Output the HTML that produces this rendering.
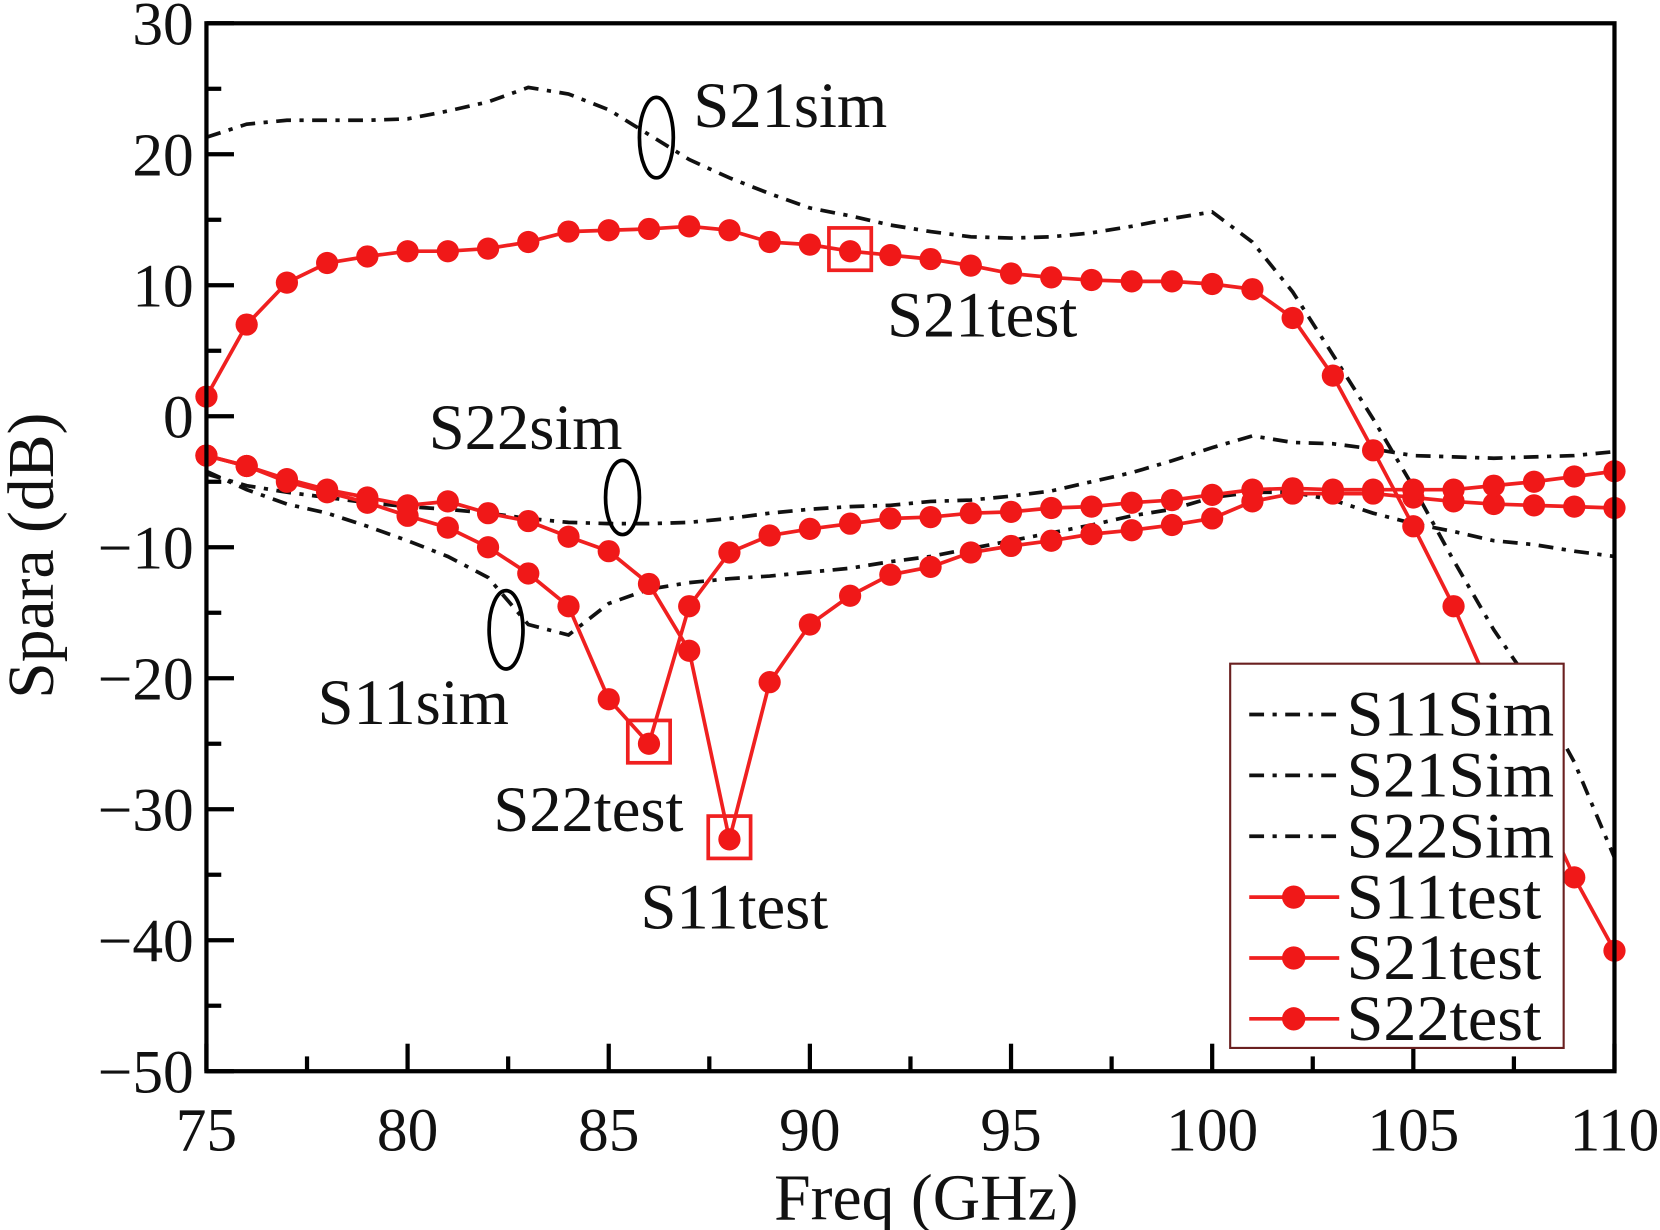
<!DOCTYPE html>
<html><head><meta charset="utf-8"><style>
html,body{margin:0;padding:0;background:#fff;width:1660px;height:1230px;overflow:hidden}
svg text{font-family:"Liberation Serif",serif;fill:#111}
</style></head><body>
<svg id="chart" width="1660" height="1230" viewBox="0 0 1568 1162" preserveAspectRatio="none" xmlns="http://www.w3.org/2000/svg">
<g id="plot"></g>
</svg>
<script>
const freqTest = [75,76,77,78,79,80,81,82,83,84,85,86,87,88,89,90,91,92,93,94,95,96,97,98,99,100,101,102,103,104,105,106,107,108,109,110];
const s21Test = [1.5,7,10.2,11.7,12.2,12.6,12.6,12.8,13.3,14.1,14.2,14.3,14.5,14.2,13.3,13.1,12.6,12.3,12,11.5,10.9,10.6,10.4,10.3,10.3,10.1,9.7,7.5,3.1,-2.6,-8.4,-14.5,-21.5,-28.5,-35.2,-40.8];
const s11Test = [-3,-3.8,-4.8,-5.6,-6.2,-6.8,-6.5,-7.4,-8,-9.2,-10.3,-12.8,-17.9,-32.3,-20.3,-15.9,-13.7,-12.1,-11.5,-10.4,-9.9,-9.5,-9,-8.7,-8.3,-7.8,-6.5,-5.9,-5.9,-5.9,-6.2,-6.5,-6.7,-6.8,-6.9,-7];
const s22Test = [-3,-3.8,-5,-5.8,-6.6,-7.6,-8.5,-10,-12,-14.5,-21.6,-25,-14.5,-10.4,-9.1,-8.6,-8.2,-7.8,-7.7,-7.4,-7.3,-7,-6.9,-6.6,-6.4,-6,-5.6,-5.5,-5.6,-5.6,-5.6,-5.6,-5.3,-5,-4.6,-4.2];
const freqSim = [75,76,77,78,79,80,81,82,83,84,85,86,87,88,89,90,91,92,93,94,95,96,97,98,99,100,101,102,103,104,105,106,107,108,109,110];
const s21Sim = [21.3,22.3,22.6,22.6,22.6,22.7,23.3,24,25.1,24.6,23.4,21.5,19.6,18.2,17,15.9,15.3,14.6,14.1,13.7,13.6,13.7,14,14.5,15.1,15.6,13.3,9.5,4.7,-0.2,-5.4,-11,-16.3,-20.8,-26.4,-33.7];
const s11Sim = [-4.2,-5.6,-6.7,-7.4,-8.4,-9.5,-10.7,-12.3,-15.9,-16.7,-14.3,-13.2,-12.7,-12.4,-12.2,-11.9,-11.6,-11.1,-10.7,-10.1,-9.5,-8.9,-8.3,-7.6,-7.1,-6.2,-5.8,-5.8,-6.4,-7.4,-8.2,-8.8,-9.5,-9.8,-10.3,-10.7];
const s22Sim = [-4.4,-5.3,-5.8,-6.2,-6.6,-6.9,-7.1,-7.4,-7.8,-8.1,-8.2,-8.2,-8.1,-7.8,-7.4,-7.1,-6.9,-6.8,-6.5,-6.4,-6.1,-5.7,-5,-4.3,-3.4,-2.4,-1.5,-2,-2.1,-2.5,-3,-3.1,-3.2,-3.1,-3,-2.7];
const xTicks = [75,80,85,90,95,100,105,110];
const yTicks = [30,20,10,0,-10,-20,-30,-40,-50];

const NS="http://www.w3.org/2000/svg";
const L=195,R=1525,T=22,B=1012;
const X=v=>L+(v-75)/35*(R-L);
const Y=v=>T+(30-v)/80*(B-T);
const g=document.getElementById('plot');
function mk(tag,attrs,parent){const e=document.createElementNS(NS,tag);for(const k in attrs)e.setAttribute(k,attrs[k]);(parent||g).appendChild(e);return e;}

for(let v=75;v<=110;v+=2.5){const major=v%5===0;
 const t=mk('line',{x1:X(v),x2:X(v),y1:B,y2:B-(major?26:14),stroke:'#000','stroke-width':4});
 
 }
for(let v=-50;v<=30;v+=5){const major=v%10===0;
 const t=mk('line',{x1:L,x2:L+(major?26:14),y1:Y(v),y2:Y(v),stroke:'#000','stroke-width':4});
 
 }
xTicks.forEach(v=>{const t=mk('text',{x:X(v),y:1087,'text-anchor':'middle','font-size':58});t.textContent=v;
 
 });
yTicks.forEach(v=>{const t=mk('text',{x:183,y:Y(v)+20,'text-anchor':'end','font-size':58});t.textContent=v<0?'\u2212'+(-v):v;
 
 });

function path(xs,ys){return xs.map((x,i)=>(i?'L':'M')+X(x).toFixed(1)+' '+Y(ys[i]).toFixed(1)).join(' ');}
function simLine(ys,name){const p=mk('path',{d:path(freqSim,ys),fill:'none',stroke:'#111','stroke-width':3.5,'stroke-dasharray':'14 8 4 8'});
 
 }
function testLine(ys,name){const p=mk('path',{d:path(freqTest,ys),fill:'none',stroke:'#f02020','stroke-width':3.5});
 
 
 freqTest.forEach((f,i)=>{const c=mk('circle',{cx:X(f),cy:Y(ys[i]),r:10.5,fill:'#f01818'});
 
 });}
simLine(s21Sim,'s21sim-line');simLine(s11Sim,'s11sim-line');simLine(s22Sim,'s22sim-line');
testLine(s21Test,'s21test-line');testLine(s11Test,'s11test-line');testLine(s22Test,'s22test-line');

[[91,s21Test[16]],[86,s22Test[11]],[88,s11Test[13]]].forEach(([f,v])=>{const r=mk('rect',{x:X(f)-20,y:Y(v)-22,width:40,height:40,fill:'none',stroke:'#f02020','stroke-width':3.5});
 
 });
[[620,130,16,38],[588,470,16,35],[478,595,16,37]].forEach(([cx,cy,rx,ry])=>{const e=mk('ellipse',{cx,cy,rx,ry,fill:'none',stroke:'#000','stroke-width':3.5});
 
 });
[['S21sim',655,120],['S21test',838,318],['S22sim',405,424],['S11sim',300,684],['S22test',466,785],['S11test',605,877]].forEach(([s,x,y])=>{const t=mk('text',{x,y,'font-size':61});t.textContent=s;
 
 });

const fr=mk('rect',{x:L,y:T,width:R-L,height:B-T,fill:'none',stroke:'#000','stroke-width':4});



const lg=mk('g',{});


mk('rect',{x:1162,y:627,width:315,height:363,fill:'#fff',stroke:'#6a2020','stroke-width':2},lg);
const legNames=['S11Sim','S21Sim','S22Sim','S11test','S21test','S22test'];
legNames.forEach((n,i)=>{const y=675+i*57.5;const sim=i<3;
 const e=mk('g',{},lg);
 
 
 mk('line',{x1:1180,x2:1265,y1:y,y2:y,stroke:sim?'#111':'#f02020','stroke-width':3.5,'stroke-dasharray':sim?'14 8 4 8':'none'},e);
 if(!sim)mk('circle',{cx:1222,cy:y,r:11,fill:'#f01818'},e);
 const t=mk('text',{x:1272,y:y+20,'font-size':61,textLength:sim?196:184,lengthAdjust:'spacingAndGlyphs'},e);t.textContent=n;});

const xt=mk('text',{x:875,y:1152,'text-anchor':'middle','font-size':62});xt.textContent='Freq (GHz)';


const yt=mk('text',{x:0,y:0,'text-anchor':'middle','font-size':62,transform:'translate(50 525) rotate(-90)'});yt.textContent='Spara (dB)';


</script>
</body></html>
